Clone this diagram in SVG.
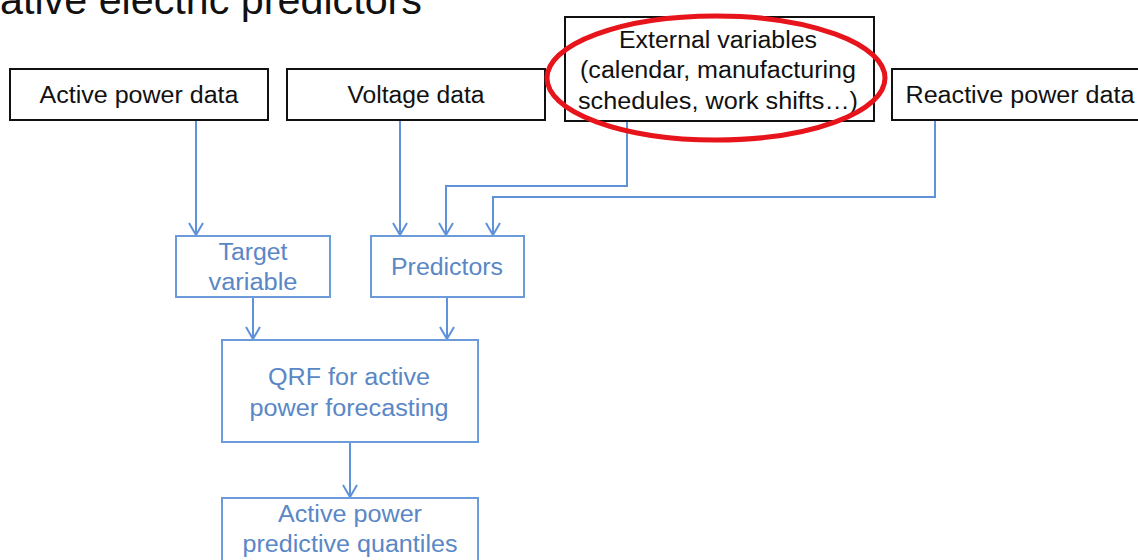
<svg xmlns="http://www.w3.org/2000/svg" width="1138" height="560" viewBox="0 0 1138 560">
<style>
text{font-family:"Liberation Sans",Arial,sans-serif;font-size:23px;text-anchor:middle}
.bk rect{fill:#fff;stroke:#111;stroke-width:2}
.bk text{fill:#111}
.bl rect{fill:#fff;stroke:#6c9bd9;stroke-width:2}
.bl text{fill:#5a87c6}
.c path{fill:none;stroke:#5f92d8;stroke-width:2}
</style>
<defs>
<marker id="ah" markerUnits="userSpaceOnUse" markerWidth="20" markerHeight="20" viewBox="-14 -10 16 20" refX="0" refY="0" orient="auto">
<path d="M-12,-7 L0,0 L-12,7" fill="none" stroke="#5f92d8" stroke-width="2"/>
</marker>
</defs>
<rect width="1138" height="560" fill="#fff"/>
<text x="0" y="14" style="font-size:41px;text-anchor:start;fill:#111" textLength="422" lengthAdjust="spacingAndGlyphs">ative electric predictors</text>

<g class="c">
<path d="M196,121 V235" marker-end="url(#ah)"/>
<path d="M400,121 V235" marker-end="url(#ah)"/>
<path d="M627,121 V186 H446 V235" marker-end="url(#ah)"/>
<path d="M935,121 V197 H493 V235" marker-end="url(#ah)"/>
<path d="M253,297 V339" marker-end="url(#ah)"/>
<path d="M447,297 V339" marker-end="url(#ah)"/>
<path d="M350,442 V497" marker-end="url(#ah)"/>
</g>

<g id="active" class="bk"><rect x="10" y="69" width="258" height="51"/><text x="139" y="103" textLength="199" lengthAdjust="spacingAndGlyphs">Active power data</text></g>
<g id="voltage" class="bk"><rect x="287" y="69" width="258" height="51"/><text x="416" y="103" textLength="137" lengthAdjust="spacingAndGlyphs">Voltage data</text></g>
<g id="external" class="bk"><rect x="565" y="17" width="309" height="104"/>
<text x="718" y="48" textLength="198" lengthAdjust="spacingAndGlyphs">External variables</text>
<text x="718" y="78" textLength="276" lengthAdjust="spacingAndGlyphs">(calendar, manufacturing</text>
<text x="718" y="109" textLength="280" lengthAdjust="spacingAndGlyphs">schedules, work shifts…)</text></g>
<g id="reactive" class="bk"><rect x="892" y="69" width="260" height="51"/><text x="1020" y="103" textLength="229" lengthAdjust="spacingAndGlyphs">Reactive power data</text></g>

<g id="target" class="bl"><rect x="176" y="236" width="154" height="61"/>
<text x="253" y="260" textLength="69" lengthAdjust="spacingAndGlyphs">Target</text>
<text x="253" y="290" textLength="89" lengthAdjust="spacingAndGlyphs">variable</text></g>
<g id="predictors" class="bl"><rect x="371" y="236" width="153" height="61"/>
<text x="447" y="275" textLength="112" lengthAdjust="spacingAndGlyphs">Predictors</text></g>
<g id="qrf" class="bl"><rect x="222" y="340" width="256" height="102"/>
<text x="349" y="385" textLength="162" lengthAdjust="spacingAndGlyphs">QRF for active</text>
<text x="349" y="416" textLength="199" lengthAdjust="spacingAndGlyphs">power forecasting</text></g>
<g id="quantiles" class="bl"><rect x="222" y="498" width="256" height="70"/>
<text x="350" y="522" textLength="144" lengthAdjust="spacingAndGlyphs">Active power</text>
<text x="350" y="552" textLength="215" lengthAdjust="spacingAndGlyphs">predictive quantiles</text></g>

<ellipse cx="716" cy="78" rx="169" ry="62" fill="none" stroke="#e8141b" stroke-width="5"/>
</svg>
